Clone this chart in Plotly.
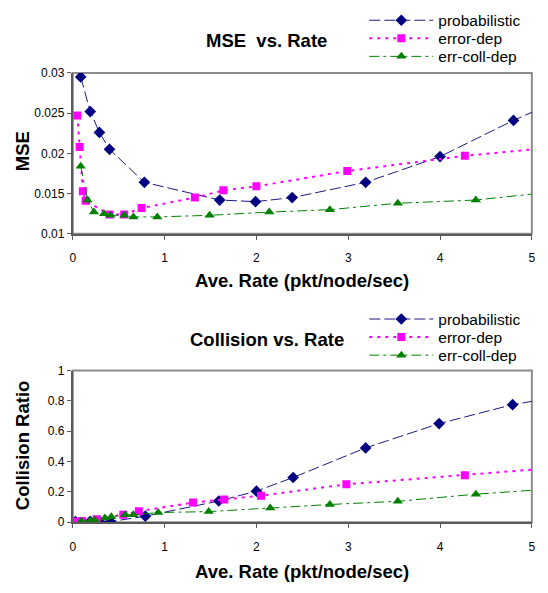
import plotly.graph_objects as go

W, H = 548, 593

# ---------------- data ----------------
series_names = ["probabilistic", "error-dep", "err-coll-dep"]

mse_prob_x = [0.086, 0.19, 0.29, 0.40, 0.78, 1.60, 1.99, 2.39, 3.19, 4.00, 4.80, 5.30]
mse_prob_y = [0.0295, 0.0252, 0.0226, 0.0205, 0.0164, 0.0142, 0.0140, 0.0145, 0.0164, 0.0196, 0.0241, 0.0266]

mse_err_x = [0.05, 0.075, 0.11, 0.14, 0.40, 0.56, 0.75, 1.33, 1.64, 2.00, 2.99, 4.27, 5.30]
mse_err_y = [0.0247, 0.0208, 0.0153, 0.0141, 0.0124, 0.0124, 0.0132, 0.0145, 0.0154, 0.0159, 0.0178, 0.0197, 0.0208]

mse_ecd_x = [0.086, 0.16, 0.23, 0.34, 0.41, 0.56, 0.66, 0.92, 1.49, 2.14, 2.80, 3.54, 4.39, 5.30]
mse_ecd_y = [0.0184, 0.0142, 0.0127, 0.0125, 0.0123, 0.0123, 0.0121, 0.0121, 0.0123, 0.0127, 0.0130, 0.0138, 0.0142, 0.0153]

col_prob_x = [0.03, 0.19, 0.29, 0.41, 0.79, 1.59, 2.00, 2.40, 3.19, 3.99, 4.79, 5.30]
col_prob_y = [0.004, 0.006, 0.006, 0.004, 0.040, 0.140, 0.205, 0.295, 0.490, 0.650, 0.775, 0.828]

col_err_x = [0.03, 0.10, 0.26, 0.55, 0.72, 1.31, 1.65, 2.05, 2.98, 4.27, 5.30]
col_err_y = [0.004, 0.008, 0.020, 0.050, 0.072, 0.130, 0.150, 0.175, 0.250, 0.310, 0.361]

col_ecd_x = [0.09, 0.19, 0.24, 0.35, 0.42, 0.57, 0.66, 0.93, 1.48, 2.15, 2.80, 3.54, 4.39, 5.30]
col_ecd_y = [0.006, 0.010, 0.015, 0.028, 0.036, 0.049, 0.049, 0.064, 0.070, 0.094, 0.117, 0.138, 0.185, 0.223]

x_range = [0, 5]
mse_range = [0.01, 0.03]
col_range = [0, 1]

titles = ["MSE  vs. Rate", "Collision vs. Rate"]
x_title = "Ave. Rate (pkt/node/sec)"
y_titles = ["MSE", "Collision Ratio"]

# ---------------- styles ----------------
FONT = "Liberation Sans, Arial, sans-serif"
styles = [
    dict(line=dict(color="#1a1a80", width=1, dash="11px,4px"),
         marker=dict(symbol="diamond", size=9, color="#000080")),
    dict(line=dict(color="#FF00FF", width=2, dash="3px,5px"),
         marker=dict(symbol="square", size=8, color="#FF00FF")),
    dict(line=dict(color="#008000", width=1, dash="10px,4px,3px,4px"),
         marker=dict(symbol="triangle-up", size=9, color="#008000")),
]


def px_x(p):
    return p / W


def px_y(p):
    return 1 - p / H


xdom = [px_x(70.7), px_x(535.7)]
ydom_top = [px_y(232.3), px_y(67.5)]
ydom_bot = [px_y(527.7), px_y(372.3)]

# legend rows (pixel centres) for each panel
legend_rows_top = [14, 32.5, 51]
legend_rows_bot = [320, 338.5, 357]

fig = go.Figure()

top_data = [(mse_prob_x, mse_prob_y), (mse_err_x, mse_err_y), (mse_ecd_x, mse_ecd_y)]
bot_data = [(col_prob_x, col_prob_y), (col_err_x, col_err_y), (col_ecd_x, col_ecd_y)]

legend_layout = {}
legend_common = dict(xanchor="left", yanchor="middle", bgcolor="rgba(0,0,0,0)",
                     itemwidth=64, borderwidth=0,
                     font=dict(family=FONT, size=15.5, color="black"))
lid = 0
for panel, (data, rows, xa, ya) in enumerate(((top_data, legend_rows_top, "x", "y"),
                                              (bot_data, legend_rows_bot, "x2", "y2"))):
    for (xs, ys), name, st, row in zip(data, series_names, styles, rows):
        lid += 1
        lname = "legend" if lid == 1 else "legend%d" % lid
        fig.add_trace(go.Scatter(x=xs, y=ys, name=name, mode="lines+markers",
                                 line=st["line"], marker=st["marker"],
                                 xaxis=xa, yaxis=ya, legend=lname))
        legend_layout[lname] = dict(x=px_x(366), y=px_y(row), **legend_common)

axis_common = dict(showline=True, linecolor="#5a5a5a", linewidth=2, mirror=False,
                   showgrid=False, zeroline=False, ticks="outside", ticklen=4,
                   tickcolor="#5a5a5a", tickwidth=1,
                   tickfont=dict(family=FONT, size=12, color="black"))

fig.update_layout(
    width=W, height=H, margin=dict(l=0, r=0, t=0, b=0),
    paper_bgcolor="white", plot_bgcolor="white",
    xaxis=dict(domain=xdom, range=x_range, anchor="y", dtick=1, ticklabelstandoff=8, **axis_common),
    yaxis=dict(domain=ydom_top, range=mse_range, anchor="x", dtick=0.005, **axis_common),
    xaxis2=dict(domain=xdom, range=x_range, anchor="y2", dtick=1, ticklabelstandoff=8, **axis_common),
    yaxis2=dict(domain=ydom_bot, range=col_range, anchor="x2", dtick=0.2, **axis_common),
    showlegend=True,
    **legend_layout,
)

# light grey frame (top/right) around both plot areas
for xr, yr in (("x domain", "y domain"), ("x2 domain", "y2 domain")):
    fig.add_shape(type="rect", xref=xr, yref=yr, x0=0, x1=1, y0=0, y1=1,
                  line=dict(color="#8c8c8c", width=2), layer="below")

ann = []
ann.append(dict(text="<b>%s</b>" % titles[0], x=px_x(267), y=px_y(34)))
ann.append(dict(text="<b>%s</b>" % titles[1], x=px_x(267), y=px_y(341)))
ann.append(dict(text="<b>%s</b>" % x_title, x=px_x(303), y=px_y(280)))
ann.append(dict(text="<b>%s</b>" % x_title, x=px_x(303), y=px_y(578)))
for a in ann:
    a.update(xref="paper", yref="paper", showarrow=False, xanchor="center", yanchor="middle",
             font=dict(family=FONT, size=18.5, color="black"))
    fig.add_annotation(**a)

fig.add_annotation(text="<b>%s</b>" % y_titles[0], x=px_x(20), y=px_y(148), textangle=-90,
                   xref="paper", yref="paper", showarrow=False, xanchor="center", yanchor="middle",
                   font=dict(family=FONT, size=18.5, color="black"))
fig.add_annotation(text="<b>%s</b>" % y_titles[1], x=px_x(20), y=px_y(449), textangle=-90,
                   xref="paper", yref="paper", showarrow=False, xanchor="center", yanchor="middle",
                   font=dict(family=FONT, size=18.5, color="black"))

fig.write_html("out.html", config={"displayModeBar": False},
               post_script="document.body.style.margin='0';")
